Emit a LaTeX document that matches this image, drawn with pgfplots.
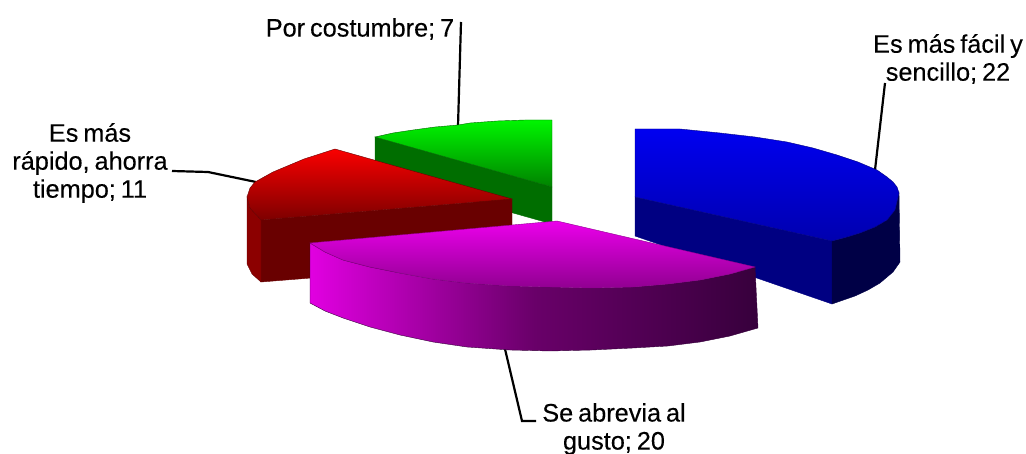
\documentclass[border=0pt]{standalone}
\usepackage{pgfplots}
\pgfplotsset{compat=1.18}
\usepackage{fontspec}
\setmainfont{Liberation Sans}
\newfontfamily\lab{Liberation Sans}[FakeBold=0.2,WordSpace=0.7]
\definecolor{b1}{RGB}{0,0,240}\definecolor{b2}{RGB}{0,0,175}
\definecolor{b3}{RGB}{0,0,130}\definecolor{b4}{RGB}{0,0,70}
\definecolor{r1}{RGB}{250,0,0}\definecolor{r2}{RGB}{125,0,0}\definecolor{r3}{RGB}{105,0,0}
\definecolor{r4}{RGB}{140,0,0}
\definecolor{g1}{RGB}{0,245,0}\definecolor{g2}{RGB}{0,130,0}\definecolor{g3}{RGB}{0,110,0}
\definecolor{p1}{RGB}{235,0,235}\definecolor{p2}{RGB}{145,0,145}
\definecolor{p3}{RGB}{225,0,225}\definecolor{p5}{RGB}{105,0,105}\definecolor{p4}{RGB}{55,0,60}
\begin{document}
\begin{tikzpicture}
\useasboundingbox (0,0) rectangle (1026pt,454pt);
\begin{axis}[width=1026pt,height=454pt,scale only axis,xmin=0,xmax=1026,ymin=0,ymax=454,y dir=reverse,hide axis,clip=false,anchor=south west,at={(0,0)}]
% leaders
\addplot[black,line width=2.2pt] coordinates {(885,83)(875,170)};
\addplot[black,line width=2.2pt] coordinates {(461,22)(458,126)};
\addplot[black,line width=2.2pt] coordinates {(172,171)(208,172)(256,182)};
\addplot[black,line width=2.2pt] coordinates {(505,349)(522,421)(536,421)};
% green
\addplot[draw=g3,fill=g3] coordinates {(375,137)(552,187)(552,224)(375,174)} --cycle;
\addplot[draw=g2!80!black,top color=g1,bottom color=g2] coordinates {(552,120)(525,120)(497,121)(470,123)(458,125)(435,127)(413,130)(393,133)(375,137)(552,187)} --cycle;
% blue
\addplot[draw=b3,fill=b3] coordinates {(635,197)(832,241)(832,304)(635,236)} --cycle;
\addplot[draw=b4,fill=b4] coordinates {(832,241)(847,237)(860,233)(875,227)(887,220)(895,210)(899,193)(900,262)(893,272)(880,283)(868,290)(855,296)(832,304)} --cycle;
\addplot[draw=b3,top color=b1,bottom color=b2] coordinates {(635,129)(680,129)(720,133)(755,137)(787,142)(813,148)(837,155)(858,162)(877,170)(887,177)(893,182)(897,187)(899,193)(895,210)(887,220)(875,227)(860,233)(847,237)(832,241)(635,197)} --cycle;
% red
\addplot[draw=r3,fill=r3] coordinates {(261,220)(512,199)(512,262)(261,282)} --cycle;
\addplot[draw=r3,fill=r4] coordinates {(247,197)(250,208)(261,220)(261,282)(252,274)(247,264)} --cycle;
\addplot[draw=r3,top color=r1,bottom color=r2] coordinates {(512,199)(335,149)(304,159)(273,172)(255,182)(250,188)(247,197)(250,208)(261,220)} --cycle;
% purple
\addplot[draw=p4,left color=p3,right color=p4,middle color=p5] coordinates {(310,243)(325,252)(343,260)(370,267)(400,273)(433,279)(467,283)(510,286)(550,287)(592,288)(633,287)(668,284)(700,280)(730,274)(755,267)(758,328)(730,336)(700,342)(668,346)(633,348)(592,350)(550,351)(510,350)(467,347)(433,342)(400,335)(370,327)(343,318)(325,311)(310,303)} --cycle;
\addplot[draw=p2,top color=p1,bottom color=p2] coordinates {(557,221)(755,267)(730,274)(700,280)(668,284)(633,287)(592,288)(550,287)(510,286)(467,283)(433,279)(400,273)(370,267)(343,260)(325,252)(310,243)} --cycle;
% labels
\node[align=center,font=\lab\fontsize{25.3}{28}\selectfont] at (axis cs:360,29) {Por costumbre; 7};
\node[align=center,font=\lab\fontsize{25.3}{28}\selectfont] at (axis cs:948,59) {Es más fácil y\\sencillo; 22};
\node[align=center,font=\lab\fontsize{25.3}{28}\selectfont] at (axis cs:90,163) {Es más\\rápido, ahorra\\tiempo; 11};
\node[align=center,font=\lab\fontsize{25.3}{28}\selectfont] at (axis cs:614,429) {Se abrevia al\\gusto; 20};
\end{axis}
\end{tikzpicture}
\end{document}
